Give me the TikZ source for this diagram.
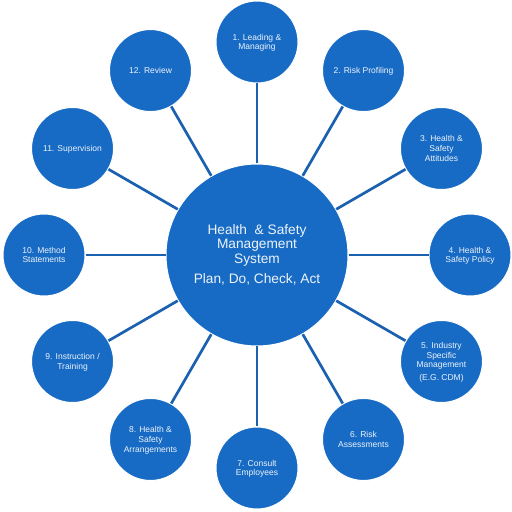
\documentclass[tikz,border=0pt]{standalone}
\usepackage{fontspec}
\setmainfont{Liberation Sans}
\usetikzlibrary{calc}
\definecolor{discblue}{RGB}{24,107,196}
\definecolor{spokeblue}{RGB}{28,96,176}
\definecolor{txtwhite}{RGB}{236,243,251}
\tikzset{
  hub/.style={circle, fill=discblue, draw=white, line width=1pt, minimum size=182pt, inner sep=0pt,
    text=txtwhite, align=center, font=\fontsize{13.7}{14.6}\selectfont},
  petal/.style={circle, fill=discblue, draw=white, line width=1pt, minimum size=82pt, inner sep=0pt,
    text=txtwhite, align=center, text depth=0pt, font=\fontsize{8.5}{9.6}\selectfont},
  spoke/.style={draw=spokeblue, line width=2.7pt}
}
\begin{document}
\begin{tikzpicture}[x=1pt,y=1pt]
\useasboundingbox (0,0) rectangle (512,512);
\coordinate (O) at (257,257);
\node[hub] (c) at (O) {Health~ \& Safety\\Management\\System\\[6pt]Plan, Do, Check, Act};
\node[petal] (n1) at ($(O)+(90:213pt)$) {1. Leading \&\\Managing};
\node[petal] (n2) at ($(O)+(60:213pt)$) {2. Risk Profiling};
\node[petal] (n3) at ($(O)+(30:213pt)$) {3. Health \&\\Safety\\Attitudes};
\node[petal] (n4) at ($(O)+(0:213pt)$) {4. Health \&\\Safety Policy};
\node[petal] (n5) at ($(O)+(-30:213pt)$) {5. Industry\\Specific\\Management\\[3pt](E.G. CDM)};
\node[petal] (n6) at ($(O)+(-60:213pt)$) {6. Risk\\Assessments};
\node[petal] (n7) at ($(O)+(-90:213pt)$) {7. Consult\\Employees};
\node[petal] (n8) at ($(O)+(-120:213pt)$) {8. Health \&\\Safety\\Arrangements};
\node[petal] (n9) at ($(O)+(-150:213pt)$) {9. Instruction /\\Training};
\node[petal] (n10) at ($(O)+(180:213pt)$) {10. Method\\Statements};
\node[petal] (n11) at ($(O)+(150:213pt)$) {11. Supervision};
\node[petal] (n12) at ($(O)+(120:213pt)$) {12. Review};
\foreach \i in {1,...,12} {
  \draw[spoke] (c) -- (n\i);
}
\end{tikzpicture}
\end{document}
